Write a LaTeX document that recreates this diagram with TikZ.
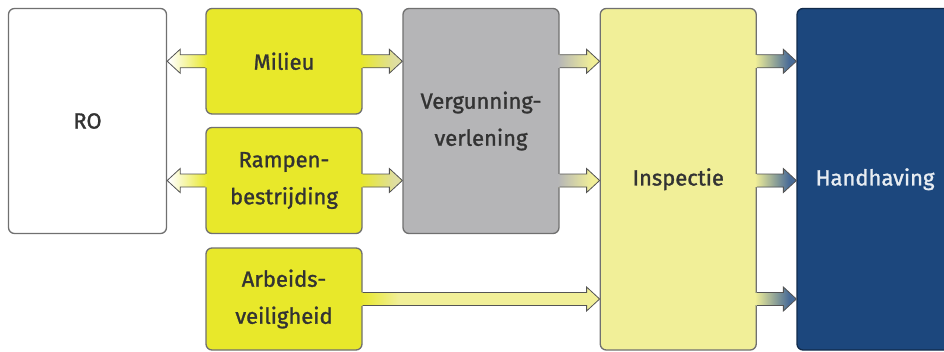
\documentclass[tikz,border=0pt]{standalone}
\usepackage{fontspec}
\setmainfont{Fira Sans}
\newfontfamily\labelfont{Fira Sans}[FakeBold=1.3]
\usetikzlibrary{calc}

\definecolor{lime}{HTML}{E8E82A}
\definecolor{stone}{HTML}{B5B5B7}
\definecolor{straw}{HTML}{F1EF98}
\definecolor{navy}{HTML}{1C477D}
\definecolor{rim}{HTML}{707070}
\definecolor{ink}{HTML}{333333}

\tikzset{
  block/.style={draw=rim, line width=1.3pt, rounded corners=6pt, inner sep=0pt,
    align=center, text=ink, font=\labelfont\fontsize{22}{37}\selectfont},
  arrowrim/.style={draw=rim!75!black, line width=0.8pt, line join=miter},
}

% Outline of a block arrow running from \p1 to the tip \p2 (direction \n1)
\def\arrowrim{(\x1,{\y1+6.5pt}) -- ({\x2-\n1*13pt},{\y1+6.5pt}) -- ({\x2-\n1*13pt},{\y1+12pt})
  -- (\x2,\y1) -- ({\x2-\n1*13pt},{\y1-12pt}) -- ({\x2-\n1*13pt},{\y1-6.5pt}) -- (\x1,{\y1-6.5pt})}
% Filled area, starting slightly inside the source box
\def\arrowbody{(\x3,{\y1+6.5pt}) -- ({\x2-\n1*13pt},{\y1+6.5pt}) -- ({\x2-\n1*13pt},{\y1+12pt})
  -- (\x2,\y1) -- ({\x2-\n1*13pt},{\y1-12pt}) -- ({\x2-\n1*13pt},{\y1-6.5pt}) -- (\x3,{\y1-6.5pt}) -- cycle}

% #1 from, #2 to, #3 shading options, #4 colour after the fade, #5 fade length
\newcommand\flowarrow[5]{%
  \begin{scope}
    \clip let \p1=(#1), \p2=(#2), \n1={sign(\x2-\x1)}, \p3=({\x1-\n1*1.5pt},\y1) in \arrowbody;
    \fill[#4] let \p1=(#1), \p2=(#2) in ({min(\x1,\x2)-3pt},{\y1-14pt}) rectangle ({max(\x1,\x2)+3pt},{\y1+14pt});
    \shade[#3] let \p1=(#1), \p2=(#2), \n1={sign(\x2-\x1)} in
      ({\x1-\n1*2pt},{\y1-14pt}) rectangle ({\x1+\n1*#5},{\y1+14pt});
  \end{scope}
  \draw[arrowrim] let \p1=(#1), \p2=(#2), \n1={sign(\x2-\x1)} in \arrowrim;
}

\begin{document}
\begin{tikzpicture}[x=1pt, y=-1pt]
  \useasboundingbox (0,0) rectangle (944,351);
  \clip (0,0) rectangle (944,351);

  % blocks
  \node[block, fill=white, minimum width=158pt, minimum height=225pt] (ro) at (87.5,121) {RO};
  \node[block, fill=lime, minimum width=156pt, minimum height=105.5pt] (milieu) at (284,61.25) {Milieu};
  \node[block, fill=lime, minimum width=156pt, minimum height=106pt] (rampen) at (284,180.5) {Rampen-\\bestrijding};
  \node[block, fill=lime, minimum width=156pt, minimum height=102pt] (arbeid) at (284,299) {Arbeids-\\veiligheid};
  \node[block, fill=stone, minimum width=156pt, minimum height=225pt] (verg) at (481,121) {Vergunning-\\verlening};
  \node[block, fill=straw, minimum width=156pt, minimum height=341.5pt] (insp) at (678.25,179.25) {Inspectie};
  \node[block, fill=navy, draw=navy!60!black, text=white!90!navy, minimum width=156pt, minimum height=341.5pt]
    (hand) at (875,179.25) {Handhaving};

  % connectors
  \flowarrow{milieu.west}{ro.east |- milieu.west}{left color=white, right color=lime}{white}{36pt}
  \flowarrow{rampen.west}{ro.east |- rampen.west}{left color=white, right color=lime}{white}{36pt}
  \flowarrow{milieu.east}{verg.west |- milieu.east}{left color=lime, right color=straw!70!stone}{straw!70!stone}{32pt}
  \flowarrow{rampen.east}{verg.west |- rampen.east}{left color=lime, right color=straw!70!stone}{straw!70!stone}{32pt}
  \coordinate (v1) at (verg.east |- milieu.east);
  \coordinate (v2) at (verg.east |- rampen.east);
  \flowarrow{v1}{insp.west |- v1}{left color=stone, right color=straw}{straw}{32pt}
  \flowarrow{v2}{insp.west |- v2}{left color=stone, right color=straw}{straw}{32pt}
  \flowarrow{arbeid.east}{insp.west |- arbeid.east}{left color=lime, right color=straw}{straw}{36pt}
  \coordinate (i1) at (insp.east |- milieu.east);
  \coordinate (i2) at (insp.east |- rampen.east);
  \coordinate (i3) at (insp.east |- arbeid.east);
  \flowarrow{i1}{hand.west |- i1}{left color=straw, right color=navy!80!white}{navy!80!white}{32pt}
  \flowarrow{i2}{hand.west |- i2}{left color=straw, right color=navy!80!white}{navy!80!white}{32pt}
  \flowarrow{i3}{hand.west |- i3}{left color=straw, right color=navy!80!white}{navy!80!white}{32pt}
\end{tikzpicture}
\end{document}
